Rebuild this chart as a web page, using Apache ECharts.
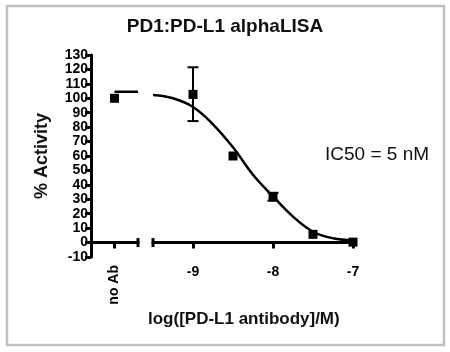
<!DOCTYPE html>
<html>
<head>
<meta charset="utf-8">
<title>PD1:PD-L1 alphaLISA</title>
<script src="https://cdn.jsdelivr.net/npm/echarts@6/dist/echarts.min.js"></script>
<style>
    html, body { margin: 0; padding: 0; background: #fff; }
    #chart { width: 450px; height: 352px; }
</style>
</head>
<body>
<div id="chart"></div>
<script>
// 数据
var logConc = [-9, -8.5, -8, -7.5, -7];
var activity = [102.7, 60, 31.8, 5.7, 0.3];
// 误差棒 [x, 下, 上]
var errBars = [[-9, 84.2, 121.5], [-8, 29, 34.5]];
// no Ab
var noAbValue = 100;
var noAbFit = 104.5;
// 拟合曲线
var fitX = [-9.5, -9.25, -9, -8.75, -8.5, -8.25, -8, -7.75, -7.5, -7.25, -7];
var fitY = [102.3, 100, 94, 82, 66, 47, 32, 18, 7.5, 3, 1.5];
var yTicks = { min: -10, max: 130, step: 10 };
var xTicks = [-9, -8, -7];

var font = 'Liberation Sans, Arial, sans-serif';

var myChart = echarts.init(document.getElementById('chart'));

var axisLine = { show: true, lineStyle: { color: '#000', width: 3 } };
var axisTick = { show: true, length: 6, lineStyle: { color: '#000', width: 3 } };

myChart.setOption({
    animation: false,
    title: [{
        text: 'PD1:PD-L1 alphaLISA',
        left: 'center',
        top: 12,
        textStyle: { fontFamily: font, fontSize: 19, fontWeight: 'bold', color: '#111' }
    }, {
        text: 'log([PD-L1 antibody]/M)',
        left: 143,
        top: 306,
        textStyle: { fontFamily: font, fontSize: 17, fontWeight: 'bold', color: '#111' }
    }, {
        text: 'IC50 = 5 nM',
        left: 320,
        top: 140,
        textStyle: { fontFamily: font, fontSize: 19, fontWeight: 'normal', color: '#111' }
    }],
    graphic: [{
        type: 'rect',
        shape: { x: 7, y: 6, width: 437, height: 339 },
        style: { fill: 'none', stroke: '#c0c0c0', lineWidth: 2.5 }
    }],
    grid: [
        { left: 91, top: 55, width: 47, height: 202 },
        { left: 153, top: 55, width: 200, height: 202 }
    ],
    xAxis: [{
        gridIndex: 0,
        type: 'value',
        min: 0,
        max: 2,
        splitLine: { show: false },
        axisLine: Object.assign({ symbol: ['none', 'rect'], symbolSize: [9, 3] }, axisLine),
        axisTick: Object.assign({ customValues: [1] }, axisTick),
        axisLabel: {
            customValues: [1],
            rotate: 90,
            formatter: function () { return 'no Ab'; },
            fontFamily: font, fontSize: 14, fontWeight: 'bold', color: '#000', margin: 8
        }
    }, {
        gridIndex: 1,
        type: 'value',
        min: -9.5,
        max: -7,
        splitLine: { show: false },
        axisLine: Object.assign({ symbol: ['rect', 'none'], symbolSize: [9, 3] }, axisLine),
        axisTick: Object.assign({ customValues: xTicks }, axisTick),
        axisLabel: {
            customValues: xTicks,
            fontFamily: font, fontSize: 14, fontWeight: 'bold', color: '#000', margin: 8
        }
    }],
    yAxis: [{
        gridIndex: 0,
        type: 'value',
        min: yTicks.min,
        max: yTicks.max,
        interval: yTicks.step,
        name: '% Activity',
        nameLocation: 'middle',
        nameGap: 40,
        nameTextStyle: { fontFamily: font, fontSize: 18, fontWeight: 'bold', color: '#111' },
        splitLine: { show: false },
        axisLine: axisLine,
        axisTick: axisTick,
        axisLabel: { fontFamily: font, fontSize: 14, fontWeight: 'bold', color: '#000', margin: 3 }
    }, {
        gridIndex: 1,
        type: 'value',
        min: yTicks.min,
        max: yTicks.max,
        interval: yTicks.step,
        show: false
    }],
    series: [{
        // no Ab 拟合线
        type: 'line',
        xAxisIndex: 0, yAxisIndex: 0,
        data: [[1, noAbFit], [2, noAbFit]],
        symbol: 'none',
        lineStyle: { color: '#000', width: 2.5 }
    }, {
        type: 'scatter',
        xAxisIndex: 0, yAxisIndex: 0,
        data: [[1, noAbValue]],
        symbol: 'rect',
        symbolSize: 9,
        itemStyle: { color: '#000', opacity: 1 }
    }, {
        // 拟合曲线
        type: 'line',
        xAxisIndex: 1, yAxisIndex: 1,
        data: fitX.map(function (x, i) { return [x, fitY[i]]; }),
        symbol: 'none',
        smooth: 0.4,
        lineStyle: { color: '#000', width: 2.5 }
    }, {
        // 误差棒
        type: 'custom',
        xAxisIndex: 1, yAxisIndex: 1,
        data: errBars,
        renderItem: function (params, api) {
            var top = api.coord([api.value(0), api.value(2)]);
            var bot = api.coord([api.value(0), api.value(1)]);
            var hw = 5.5;
            var st = { stroke: '#000', lineWidth: 2 };
            return {
                type: 'group',
                children: [
                    { type: 'line', shape: { x1: top[0], y1: top[1], x2: bot[0], y2: bot[1] }, style: st },
                    { type: 'line', shape: { x1: top[0] - hw, y1: top[1], x2: top[0] + hw, y2: top[1] }, style: st },
                    { type: 'line', shape: { x1: bot[0] - hw, y1: bot[1], x2: bot[0] + hw, y2: bot[1] }, style: st }
                ]
            };
        },
        z: 3
    }, {
        type: 'scatter',
        xAxisIndex: 1, yAxisIndex: 1,
        data: logConc.map(function (x, i) { return [x, activity[i]]; }),
        symbol: 'rect',
        symbolSize: 9,
        itemStyle: { color: '#000', opacity: 1 },
        z: 4
    }]
});
</script>
</body>
</html>
